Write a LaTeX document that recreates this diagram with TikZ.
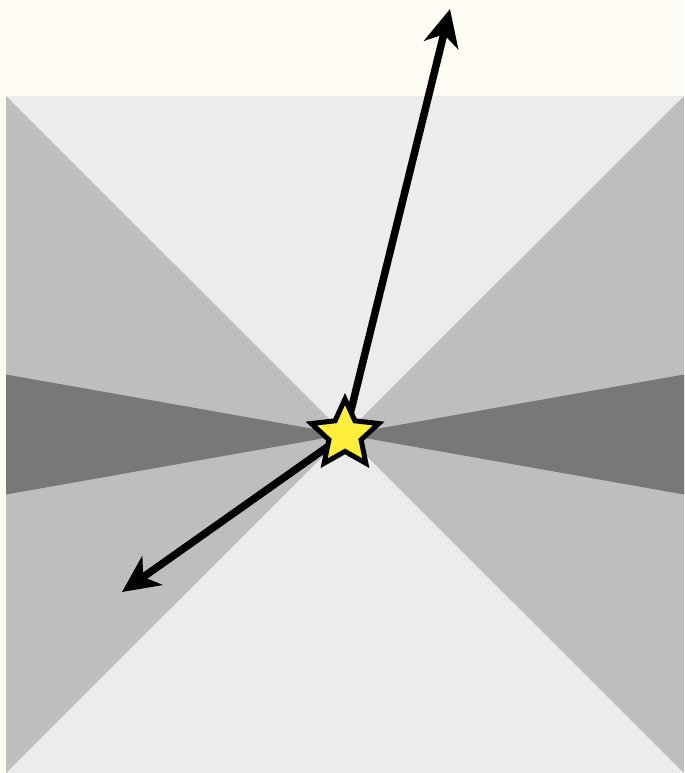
\documentclass[tikz,border=0pt]{standalone}
\usetikzlibrary{arrows.meta}
\usetikzlibrary{shapes.geometric}
\definecolor{cream}{RGB}{255,251,245}
\definecolor{lightgray}{RGB}{236,236,236}
\definecolor{midgray}{RGB}{190,190,190}
\definecolor{darkgray}{RGB}{120,120,120}
\definecolor{staryellow}{RGB}{255,238,58}
\begin{document}
\begin{tikzpicture}[x=0.02cm, y=-0.02cm,
    ray/.style={line width=0.15cm, -{Stealth[length=0.74cm, width=0.7cm, inset=0.22cm]}},
    source/.style={star, star points=5, star point ratio=2.1, minimum size=1.42cm,
        inner sep=0pt, fill=staryellow, draw=black, line width=0.1cm}]
    \fill[cream] (0,0) rectangle (684,773);
    \useasboundingbox (0,0) rectangle (684,773);
    % square and wedges
    \fill[lightgray] (6,96) rectangle (684,773);
    \fill[midgray] (6,96) -- (345,434.5) -- (6,773) -- cycle;
    \fill[midgray] (684,96) -- (345,434.5) -- (684,773) -- cycle;
    \fill[darkgray] (6,374.5) -- (345,434.5) -- (6,494.5) -- cycle;
    \fill[darkgray] (684,374.5) -- (345,434.5) -- (684,494.5) -- cycle;
    % rays
    \coordinate (src) at (345,434.5);
    \coordinate (tipup) at (450,9);
    \coordinate (tipdown) at (122,592);
    \draw[ray] (src) -- (tipup);
    \draw[ray] (src) -- (tipdown);
    \node[source] (starnode) at (src) {};
\end{tikzpicture}
\end{document}
